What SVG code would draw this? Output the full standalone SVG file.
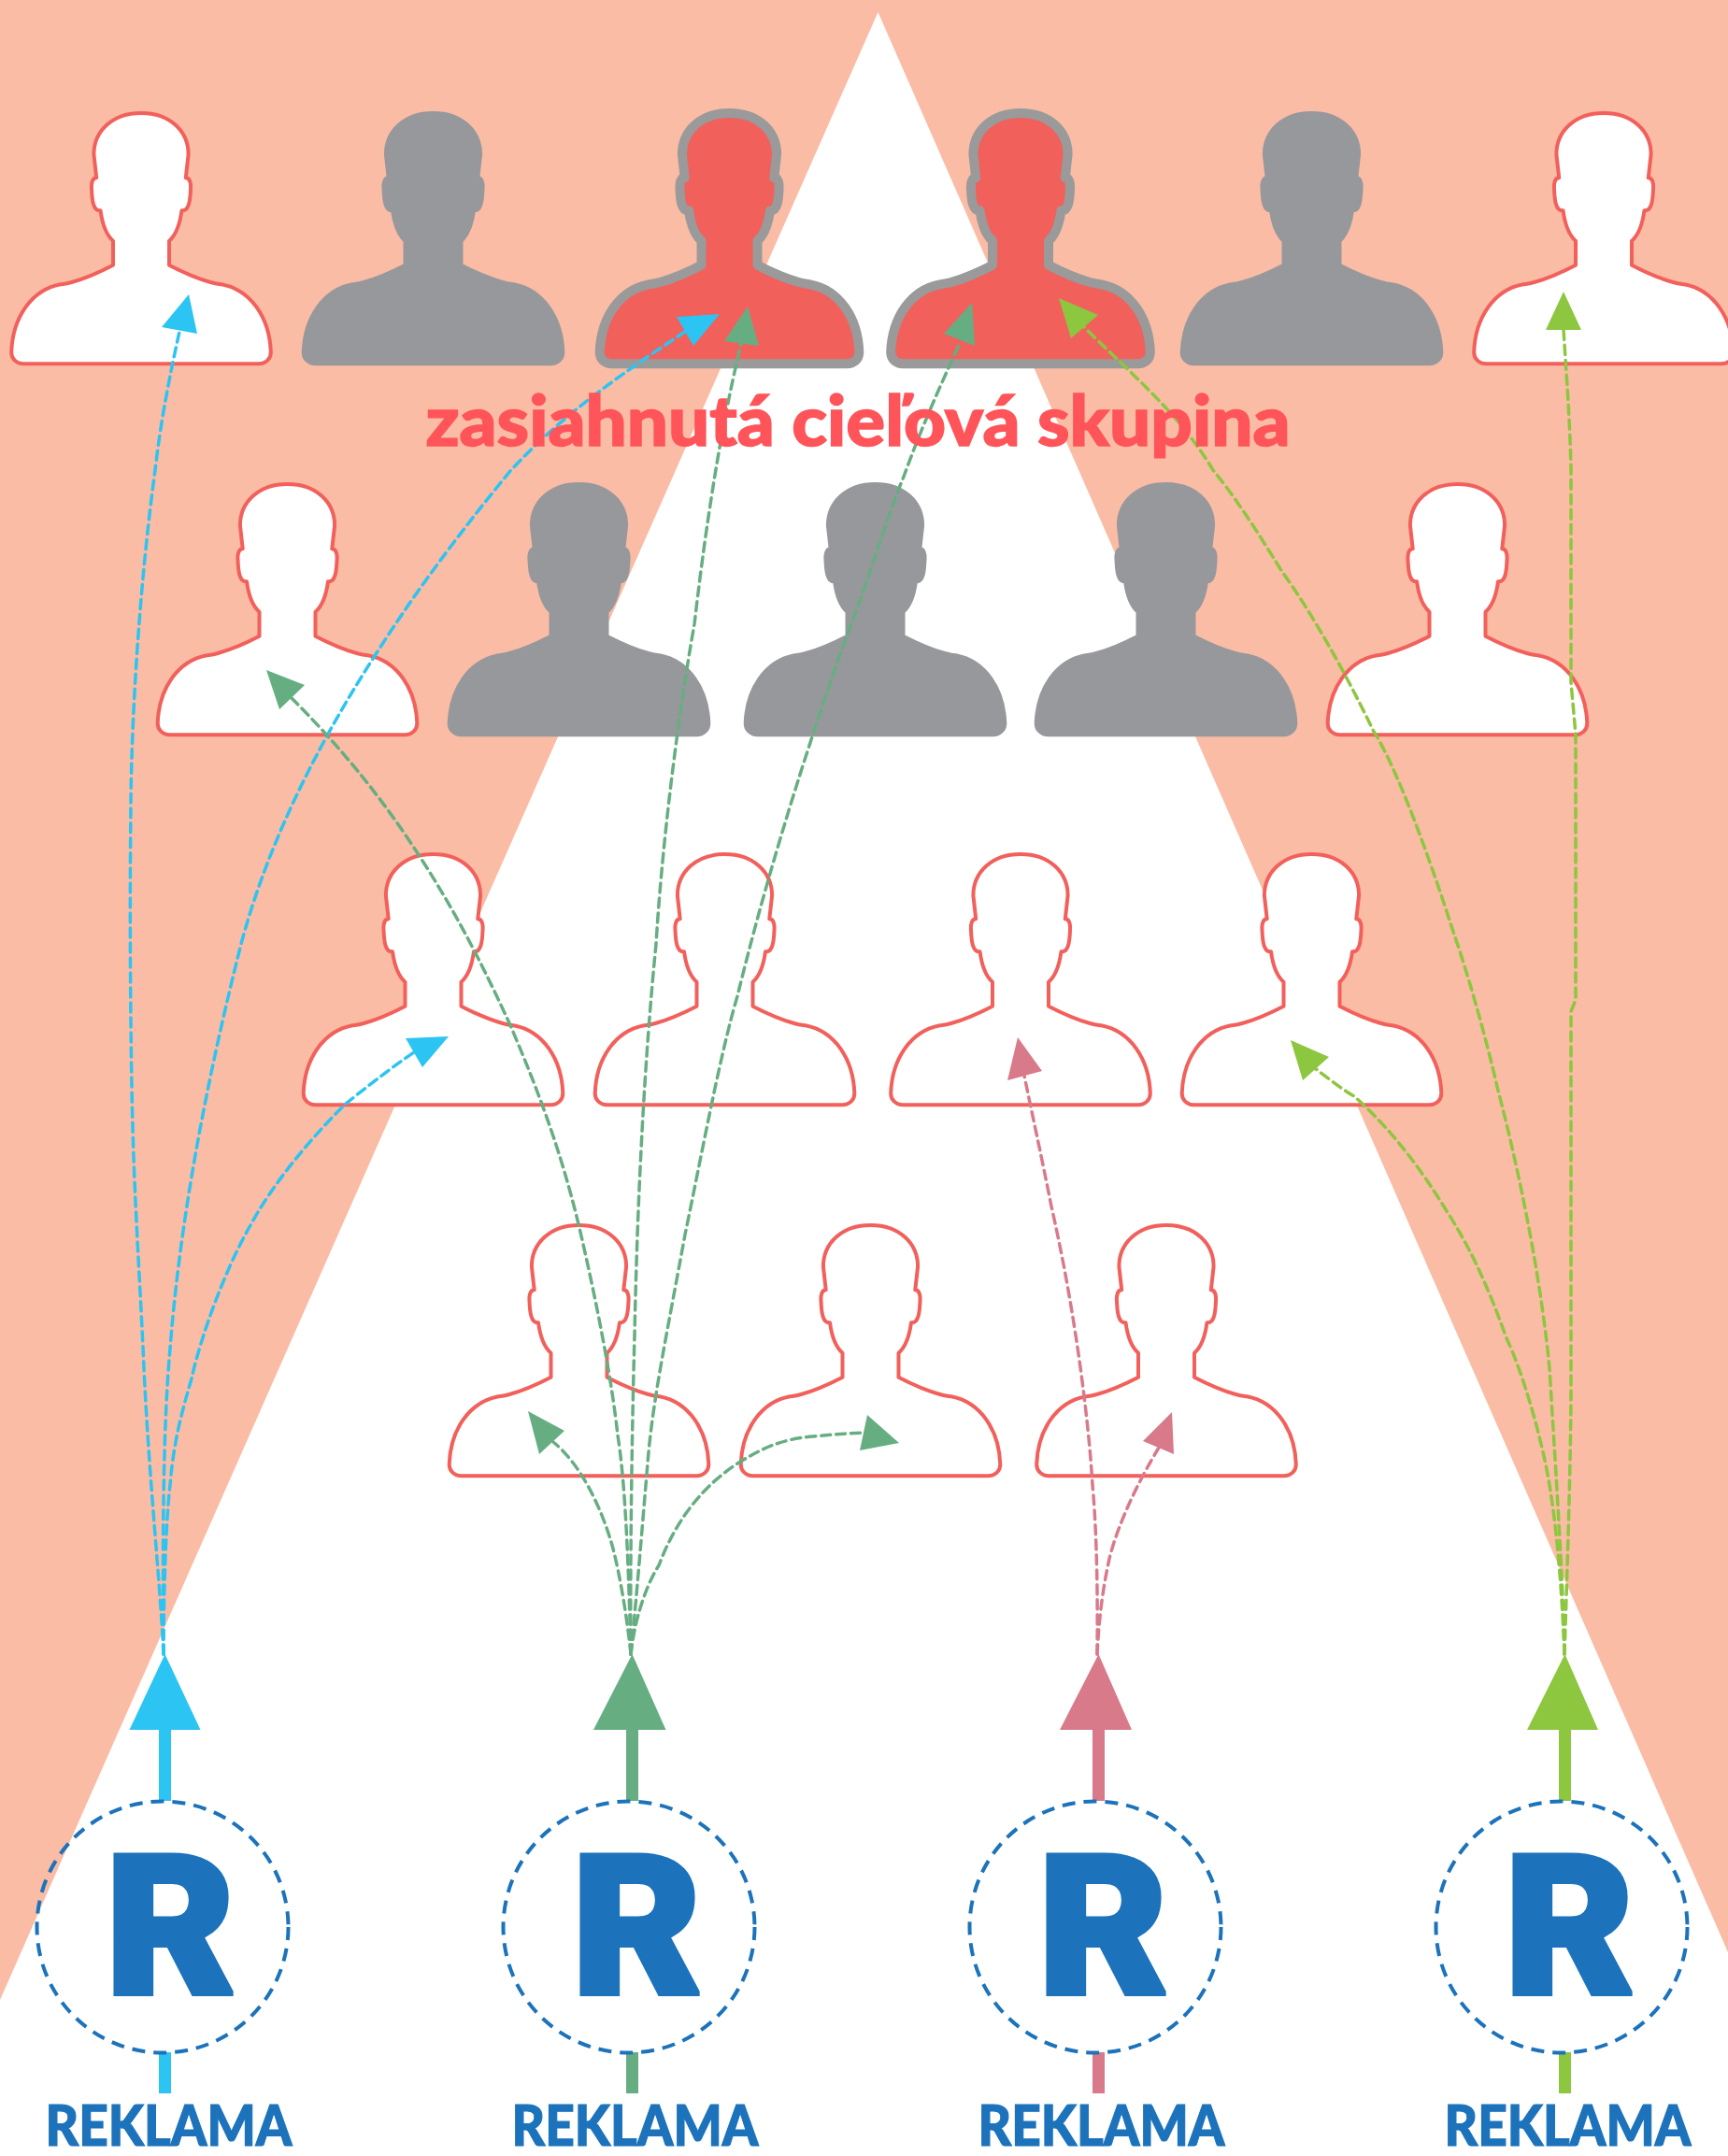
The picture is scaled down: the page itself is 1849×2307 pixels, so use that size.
<svg xmlns="http://www.w3.org/2000/svg" width="1849" height="2307" viewBox="0 0 1849 2307">
<style>
.w{fill:#fff;stroke:#f2605c;stroke-width:4;stroke-linejoin:round}
.g{fill:#97989b;stroke:#97989b;stroke-width:4;stroke-linejoin:round}
.r{fill:#f2605c;stroke:#9a9a9a;stroke-width:10;stroke-linejoin:round}
.c{fill:none;stroke-width:3.500;stroke-dasharray:10 6;stroke-linecap:round}
.ring{fill:none;stroke:#1c73bb;stroke-width:4;stroke-dasharray:14 9}
.R{font-family:Roboto,"Liberation Sans",sans-serif;font-weight:900;font-size:208px;fill:#1c73bb;stroke:#1c73bb;stroke-width:6;text-anchor:middle}
.lab{font-family:Lato,"Liberation Sans",sans-serif;font-weight:900;font-size:60px;fill:#1c73bb;stroke:#1c73bb;stroke-width:1.200;text-anchor:middle}
.blue{stroke:#2bc4f3}.green{stroke:#66ae82}.pink{stroke:#d97a8b}.lime{stroke:#8dc63f}
.fblue{fill:#2bc4f3}.fgreen{fill:#66ae82}.fpink{fill:#d97a8b}.flime{fill:#8dc63f}
</style>
<defs>
<path id="p" d="M0 0C30.800 0 50.600 19.300 50.600 44.300L47.800 69.300C52.600 69.300 53.400 76 53 81C52.600 92.700 51.400 105.300 43.500 104.300C41.900 116 38.800 129.300 30 136.700L30 162.700C42.700 169.300 62.500 177.700 74.300 181C80.300 182.700 82 182.700 86.200 183.300C117.800 189.300 137.600 219.300 138.800 256C138.800 262.700 133.600 268.300 125.700 268.300L-125.700 268.300C-133.600 268.300 -138.800 262.700 -138.800 256C-137.600 219.300 -117.800 189.300 -86.200 183.300C-82 182.700 -80.300 182.700 -74.300 181C-62.500 177.700 -42.700 169.300 -30 162.700L-30 136.700C-38.800 129.300 -41.900 116 -43.500 104.300C-51.400 105.300 -52.600 92.700 -53 81C-53.400 76 -52.600 69.300 -47.800 69.300L-50.600 44.300C-50.600 19.300 -30.800 0 0 0Z"/>
</defs>
<rect width="1849" height="2307" fill="#fabca5"/>
<polygon points="939.500,13 0,2140 0,2307 1849,2307 1849,2089" fill="#fff"/>
<g id="nodes">
<g id="p11"><use href="#p" class="w" x="151" y="121"/></g>
<g id="p12"><use href="#p" class="g" x="463.500" y="121"/></g>
<g id="p13"><use href="#p" class="r" x="780.500" y="121"/></g>
<g id="p14"><use href="#p" class="r" x="1092" y="121"/></g>
<g id="p15"><use href="#p" class="g" x="1403.500" y="121"/></g>
<g id="p16"><use href="#p" class="w" x="1716" y="121"/></g>
<g id="p21"><use href="#p" class="w" x="307.500" y="518"/></g>
<g id="p22"><use href="#p" class="g" x="619.500" y="518"/></g>
<g id="p23"><use href="#p" class="g" x="936.500" y="518"/></g>
<g id="p24"><use href="#p" class="g" x="1247.500" y="518"/></g>
<g id="p25"><use href="#p" class="w" x="1559.500" y="518"/></g>
<g id="p31"><use href="#p" class="w" x="463.500" y="914"/></g>
<g id="p32"><use href="#p" class="w" x="775.500" y="914"/></g>
<g id="p33"><use href="#p" class="w" x="1092" y="914"/></g>
<g id="p34"><use href="#p" class="w" x="1403.500" y="914"/></g>
<g id="p41"><use href="#p" class="w" x="619.500" y="1311"/></g>
<g id="p42"><use href="#p" class="w" x="931.500" y="1311"/></g>
<g id="p43"><use href="#p" class="w" x="1248" y="1311"/></g>
</g>
<g id="connectors">
<path class="c blue" d="M175 1770C172 1700 160 1590 154 1464C150 1370 143 1280 141 1163C139 1050 139 950 140 857C141 760 150 620 166 503C172 450 182 400 192 355"/>
<path class="c blue" d="M175 1770C174 1660 174 1530 182 1443C190 1340 210 1200 258 1010C290 890 350 780 406 694C450 625 500 560 546 504C600 445 665 400 733 355"/>
<path class="c blue" d="M175 1770C175 1700 178 1620 182 1589C186 1540 195 1510 205 1475C215 1430 240 1360 268 1311C290 1270 330 1220 370 1181C390 1165 415 1145 443 1126"/>
<path class="c green" d="M675 1770C670 1720 660 1670 654 1650C645 1620 625 1570 592 1543"/>
<path class="c green" d="M675 1770C680 1725 695 1690 705 1675C720 1635 745 1595 789 1566C815 1550 835 1540 870 1537C890 1535 905 1534 923 1533"/>
<path class="c green" d="M675 1770C672 1650 668 1580 661 1536C655 1480 640 1400 620 1314C600 1230 575 1165 546 1097C520 1040 490 980 452 921C410 855 365 800 312 747"/>
<path class="c green" d="M675 1770C674 1650 677 1500 679 1429C682 1280 690 1130 702 1010C710 880 730 740 743 668C752 590 768 470 793 368"/>
<path class="c green" d="M675 1770C682 1700 690 1600 694 1554C700 1490 715 1420 733 1321C750 1240 770 1130 789 1066C815 960 850 840 901 694C930 620 950 550 967 510C985 460 1005 415 1028 365"/>
<path class="c pink" d="M1174 1770C1175 1680 1172 1620 1169 1589C1165 1520 1150 1400 1125 1291C1115 1240 1105 1195 1096 1151"/>
<path class="c pink" d="M1174 1770C1176 1730 1180 1700 1187 1668C1195 1635 1215 1590 1240 1549"/>
<path class="c lime" d="M1674 1770C1677 1680 1681 1560 1681 1479L1681 1082L1686 1070L1686 786L1681 730L1681 503C1680 450 1676 400 1673 353"/>
<path class="c lime" d="M1674 1770C1672 1680 1665 1580 1658 1464C1650 1380 1630 1270 1602 1163C1590 1110 1570 1040 1556 1000C1540 950 1500 830 1469 781C1440 720 1400 650 1372 612C1340 560 1320 530 1298 503C1260 440 1210 400 1160 350"/>
<path class="c lime" d="M1674 1770C1672 1720 1668 1650 1658 1589C1650 1540 1630 1470 1612 1432C1590 1370 1570 1330 1548 1296C1520 1250 1490 1210 1449 1173C1435 1165 1420 1153 1407 1143"/>
<polygon class="fblue" points="202,315 173,350 211,357"/>
<polygon class="fblue" points="770,336 724,339 742,370"/>
<polygon class="fblue" points="480,1109 434,1111 452,1142"/>
<polygon class="fgreen" points="565,1510 604,1531 577,1556"/>
<polygon class="fgreen" points="962,1544 928,1514 920,1552"/>
<polygon class="fgreen" points="285,717 326,733 299,759"/>
<polygon class="fgreen" points="800,328 775,365 812,370"/>
<polygon class="fgreen" points="1040,324 1010,357 1043,370"/>
<polygon class="fpink" points="1089,1110 1078,1156 1115,1146"/>
<polygon class="fpink" points="1254,1511 1223,1542 1256,1556"/>
<polygon class="flime" points="1673,312 1654,353 1692,353"/>
<polygon class="flime" points="1133,319 1175,337 1146,362"/>
<polygon class="flime" points="1381,1113 1422,1131 1394,1156"/>
<path class="fblue" d="M176.500 1770L214.500 1851L183 1851L183 1927L170 1927L170 1851L138.500 1851ZM170 2196H183V2240H170Z"/>
<path class="fgreen" d="M676.500 1770L712.500 1851L683 1851L683 1927L670 1927L670 1851L635 1851ZM670 2196H683V2240H670Z"/>
<path class="fpink" d="M1175.500 1770L1211 1851L1182 1851L1182 1927L1169 1927L1169 1851L1134 1851ZM1169 2196H1182V2240H1169Z"/>
<path class="flime" d="M1674.500 1770L1710 1851L1681 1851L1681 1927L1668 1927L1668 1851L1634 1851ZM1668 2196H1681V2240H1668Z"/>
</g>
<text x="918" y="477" font-family="Lato,'Liberation Sans',sans-serif" font-weight="900" font-size="74" fill="#ff5459" stroke="#ff5459" stroke-width="1.500" text-anchor="middle" textLength="925" lengthAdjust="spacingAndGlyphs">zasiahnutá cieľová skupina</text>
<g id="ad1"><circle class="ring" cx="174" cy="2062" r="134.500"/><text class="R" x="182.500" y="2133" textLength="139" lengthAdjust="spacingAndGlyphs">R</text><text class="lab" x="180.500" y="2296" textLength="264" lengthAdjust="spacingAndGlyphs">REKLAMA</text></g>
<g id="ad2"><circle class="ring" cx="673" cy="2062" r="134.500"/><text class="R" x="681.500" y="2133" textLength="139" lengthAdjust="spacingAndGlyphs">R</text><text class="lab" x="679.500" y="2296" textLength="264" lengthAdjust="spacingAndGlyphs">REKLAMA</text></g>
<g id="ad3"><circle class="ring" cx="1172" cy="2062" r="134.500"/><text class="R" x="1180.500" y="2133" textLength="139" lengthAdjust="spacingAndGlyphs">R</text><text class="lab" x="1178.500" y="2296" textLength="264" lengthAdjust="spacingAndGlyphs">REKLAMA</text></g>
<g id="ad4"><circle class="ring" cx="1671" cy="2062" r="134.500"/><text class="R" x="1679.500" y="2133" textLength="139" lengthAdjust="spacingAndGlyphs">R</text><text class="lab" x="1677.500" y="2296" textLength="264" lengthAdjust="spacingAndGlyphs">REKLAMA</text></g>
</svg>
